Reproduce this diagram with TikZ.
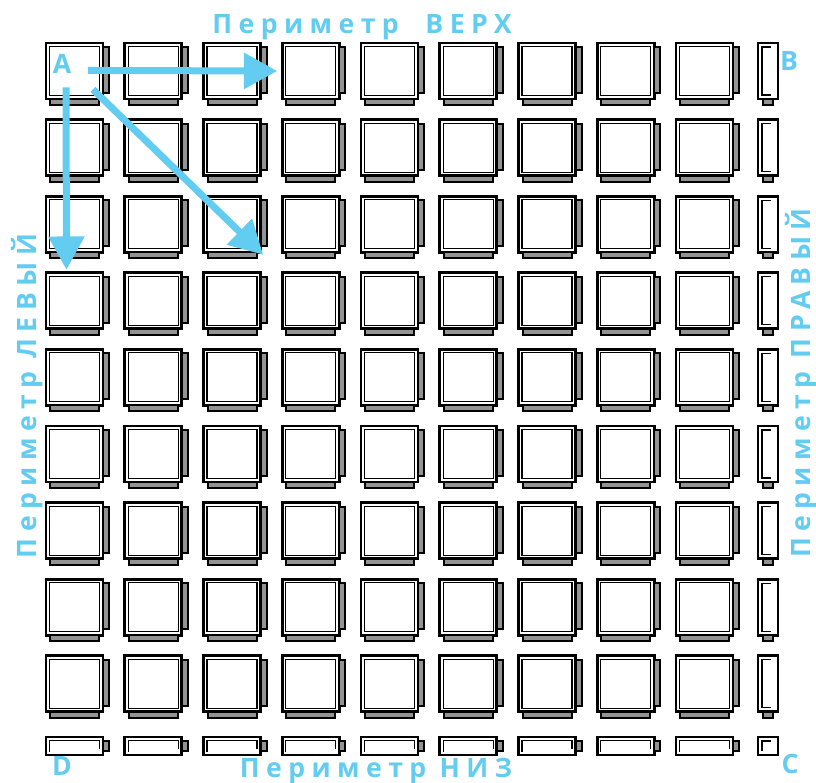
\documentclass[tikz,border=0pt]{standalone}
\usepackage{fontspec}
\usepackage{xcolor}
\usepackage{tikz}
\usetikzlibrary{arrows.meta, positioning}

\newfontfamily\perimfont{Open Sans}[LetterSpace=24]
\newfontfamily\cornerfont{Open Sans}
\definecolor{perimblue}{HTML}{62CDF0}

\begin{document}
\begin{tikzpicture}[
    x=0.75pt, y=-0.75pt,
    tile/.style={rectangle, draw, line width=2pt, fill=white, inner sep=0pt, outer sep=0pt, minimum width=42.75pt, minimum height=42pt},
    narrowtile/.style={tile, minimum width=15pt},
    flattile/.style={tile, minimum height=13.5pt},
    cornertile/.style={tile, minimum width=15pt, minimum height=13.5pt},
    innerline/.style={line width=0.8pt},
    tab/.style={draw, line width=1.5pt, fill=gray!85},
    arrow/.style={-{Triangle[length=25pt, width=26pt]}, line width=5.25pt, perimblue},
    perim/.style={font=\perimfont\bfseries\fontsize{20}{22}\selectfont, text=perimblue, inner sep=0pt, anchor=base},
    corner/.style={font=\cornerfont\bfseries\fontsize{20}{22}\selectfont, text=perimblue, inner sep=0pt, anchor=base}
]
    \useasboundingbox (0,0) rectangle (816,782);

    % Full tiles
    \foreach \r in {0,...,8} {
        \foreach \c in {0,...,8} {
            \node[tile] (t-\r-\c) at (74.5+78.75*\c, 71+76.6*\r) {};
            \draw[innerline] ([shift={(3.5,3.5)}]t-\r-\c.north west) rectangle ([shift={(-3.5,-3.5)}]t-\r-\c.south east);
            \draw[tab] ([shift={(0,4)}]t-\r-\c.north east) rectangle ([shift={(6,-6)}]t-\r-\c.south east);
            \draw[tab] ([shift={(4,0)}]t-\r-\c.south west) rectangle ([shift={(-4,6)}]t-\r-\c.south east);
        }
        % Narrow column
        \node[narrowtile] (t-\r-9) at (768, 71+76.6*\r) {};
        \draw[innerline] ([shift={(13,4)}]t-\r-9.north west) -- ([shift={(4,4)}]t-\r-9.north west)
            -- ([shift={(4,-4)}]t-\r-9.south west) -- ([shift={(13,-4)}]t-\r-9.south west);
        \draw[tab] ([shift={(5,0)}]t-\r-9.south west) rectangle ([shift={(-5,6)}]t-\r-9.south east);
    }

    % Flat row
    \foreach \c in {0,...,8} {
        \node[flattile] (t-9-\c) at (74.5+78.75*\c, 746) {};
        \draw[innerline] ([shift={(3.5,-3.5)}]t-9-\c.south west) -- ([shift={(3.5,3.5)}]t-9-\c.north west)
            -- ([shift={(-3.5,3.5)}]t-9-\c.north east) -- ([shift={(-3.5,-6)}]t-9-\c.south east);
        \draw[tab] ([shift={(0,4)}]t-9-\c.north east) rectangle ([shift={(6,-4)}]t-9-\c.south east);
    }
    \node[cornertile] (t-9-9) at (768, 746) {};
    \draw[innerline] ([shift={(4,-4)}]t-9-9.south west) -- ([shift={(4,4)}]t-9-9.north west) -- ([shift={(13,4)}]t-9-9.north west);

    % Corner labels
    \node[corner] (A) at (62,73) {A};
    \node[corner] (B) at (789,70) {B};
    \node[corner] (C) at (790,773) {C};
    \node[corner] (D) at (62,775) {D};

    % Perimeter labels
    \node[perim] (top) at (362,33) {Периметр\hspace{20pt}ВЕРХ};
    \node[perim] (bottom) at (376,777) {Периметр НИЗ};
    \node[perim, rotate=90] (left) at (36,396) {Периметр ЛЕВЫЙ};
    \node[perim, rotate=90] (right) at (810,383) {Периметр ПРАВЫЙ};

    % Arrows
    \draw[arrow] ([shift={(26,7)}]A.center) -- ([shift={(-5,0)}]t-0-3.west);
    \draw[arrow] ([shift={(4,24)}]A.center) -- ([shift={(-8,-3)}]t-3-0.north);
    \draw[arrow] ([shift={(31,26)}]A.center) -- ([shift={(-19,-18)}]t-3-3.north west);
\end{tikzpicture}
\end{document}
